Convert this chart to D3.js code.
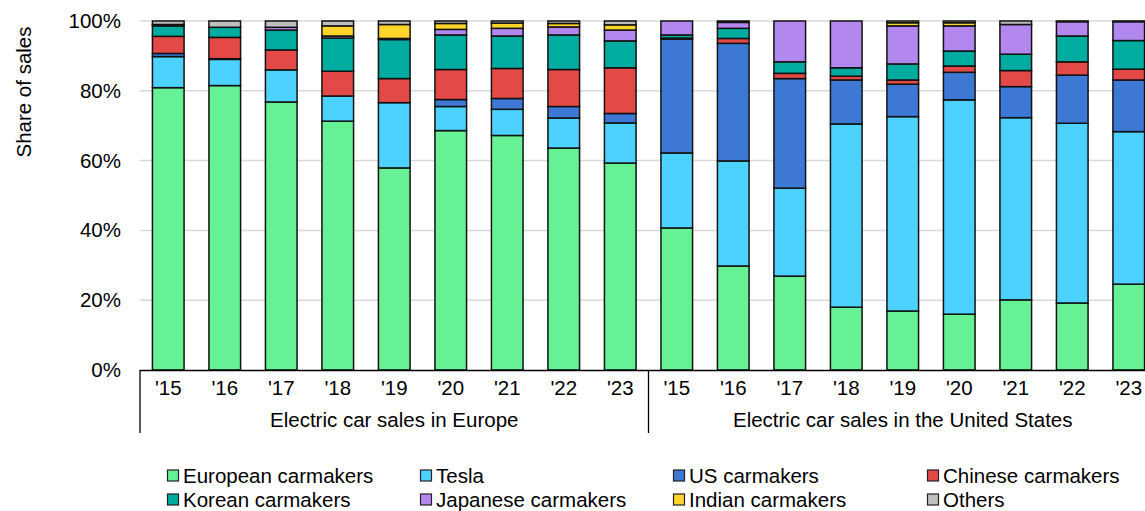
<!DOCTYPE html>
<html><head><meta charset="utf-8">
<script src="https://cdn.jsdelivr.net/npm/d3@7"></script>
<style>html,body{margin:0;padding:0;background:#fff;overflow:hidden}</style>
</head><body><svg id="c" width="1145" height="511"></svg>
<script>
const years = ["'15","'16","'17","'18","'19","'20","'21","'22","'23"];
const groups = ["Electric car sales in Europe","Electric car sales in the United States"];
const seriesNames = ["European carmakers","Tesla","US carmakers","Chinese carmakers","Korean carmakers","Japanese carmakers","Indian carmakers","Others"];
const seriesColors = ["#66F294","#4DD2FF","#3C78D4","#E34A47","#00AB9F","#B388EE","#FFD52B","#BFBFBF"];
const yTicks = [0,20,40,60,80,100];
// Europe '15..'23 then US '15..'23
const european = [80.9,81.5,76.8,71.3,57.9,68.6,67.2,63.6,59.3, 40.7,29.8,26.9,18.0,16.9,16.0,20.1,19.2,24.6];
const tesla    = [ 8.9, 7.5, 9.2, 7.2,18.7, 6.9, 7.5, 8.6,11.5, 21.5,30.1,25.2,52.5,55.7,61.4,52.2,51.5,43.7];
const usMakers = [ 0.9, 0.2, 0.0, 0.0, 0.0, 2.0, 3.1, 3.3, 2.7, 32.6,33.7,31.4,12.6, 9.3, 7.9, 8.9,13.8,14.8];
const chinese  = [ 4.9, 6.1, 5.7, 7.1, 6.9, 8.6, 8.6,10.6,13.1,  0.3, 1.4, 1.5, 1.1, 1.2, 1.8, 4.6, 3.8, 3.1];
const korean   = [ 3.0, 2.9, 5.7, 9.5,11.2, 9.9, 9.3, 9.9, 7.7,  0.9, 2.9, 3.3, 2.4, 4.6, 4.3, 4.7, 7.4, 8.2];
const japanese = [ 0.4, 0.0, 0.8, 0.6, 0.3, 1.6, 2.2, 2.3, 3.1,  4.0, 1.7,11.7,13.4,10.9, 7.2, 8.5, 4.1, 5.4];
const indian   = [ 0.0, 0.0, 0.0, 2.9, 4.0, 1.7, 1.5, 1.0, 1.5,  0.0, 0.0, 0.0, 0.0, 0.9, 0.9, 0.0, 0.0, 0.0];
const others   = [ 1.0, 1.8, 1.8, 1.4, 1.0, 0.7, 0.6, 0.7, 1.1,  0.0, 0.4, 0.0, 0.0, 0.5, 0.5, 1.0, 0.2, 0.2];

const seriesVals = [european,tesla,usMakers,chinese,korean,japanese,indian,others];
const keys = seriesNames;
const rows = [];
groups.forEach((g,gi)=>years.forEach((y,yi)=>{
  const i = gi*years.length+yi;
  const r = {id: gi+"-"+y, year:y, group:g};
  keys.forEach((k,ki)=>r[k]=seriesVals[ki][i]);
  rows.push(r);
}));

const svg = d3.select("#c");
const font = "'Liberation Sans', Arial, sans-serif";
const fs = 20.5;
const x0 = 140, step = 56.5;
const x = d3.scaleBand().domain(rows.map(r=>r.id)).range([x0, x0+step*rows.length]).paddingInner(0.44).paddingOuter(0.22);
const y = d3.scaleLinear().domain([0,100]).range([370,21]);
const color = d3.scaleOrdinal().domain(keys).range(seriesColors);

// gridlines
svg.append("g").selectAll("line").data(yTicks.filter(t=>t>0)).join("line")
  .attr("x1",x0).attr("x2",1145).attr("y1",d=>y(d)).attr("y2",d=>y(d))
  .attr("stroke","#d9d9d9").attr("stroke-width",1.5);

// y axis labels
const yAxis = d3.axisLeft(y).tickValues(yTicks).tickFormat(d=>d+"%").tickSize(0).tickPadding(19);
const ga = svg.append("g").attr("transform",`translate(${x0},0)`).call(yAxis);
ga.select(".domain").remove();
ga.selectAll("text").attr("font-family",font).attr("font-size",fs).attr("fill","#000");

svg.append("text").attr("transform","translate(31,92) rotate(-90)").attr("text-anchor","middle")
  .attr("font-family",font).attr("font-size",fs).text("Share of sales");

// stacked bars
const stacked = d3.stack().keys(keys)(rows);
svg.append("g").selectAll("g").data(stacked).join("g").attr("fill",d=>color(d.key))
  .selectAll("rect").data(d=>d.filter(p=>p[1]-p[0]>0)).join("rect")
  .attr("x",d=>x(d.data.id)).attr("width",x.bandwidth())
  .attr("y",d=>y(d[1])).attr("height",d=>y(d[0])-y(d[1]))
  .attr("stroke","#111").attr("stroke-width",1.5);

// x axis baseline
svg.append("line").attr("x1",x0).attr("x2",1145).attr("y1",370.5).attr("y2",370.5).attr("stroke","#000").attr("stroke-width",1.3);
// group separators
[0,1,2].forEach(i=>{
  const xx = x0 + i*step*years.length;
  svg.append("line").attr("x1",xx).attr("x2",xx).attr("y1",370).attr("y2",433).attr("stroke","#000").attr("stroke-width",1.3);
});
// tick labels
const xAxis = d3.axisBottom(x).tickFormat(id=>id.split("-")[1]).tickSize(0).tickPadding(10);
const gx = svg.append("g").attr("transform","translate(0,370)").call(xAxis);
gx.select(".domain").remove();
gx.selectAll("text").attr("font-family",font).attr("font-size",fs).attr("fill","#000").attr("dy","0.71em");
// group labels
groups.forEach((g,gi)=>{
  const cx = x0 + step*years.length*(gi+0.5);
  svg.append("text").attr("x",cx).attr("y",427).attr("text-anchor","middle")
    .attr("font-family",font).attr("font-size",fs).text(g);
});

// legend
const legX = [167,420,673,927];
const leg = svg.append("g").selectAll("g").data(keys).join("g")
  .attr("transform",(d,i)=>`translate(${legX[i%4]},${i<4?475.5:499.5})`);
leg.append("rect").attr("x",0.5).attr("y",-5.5).attr("width",11).attr("height",11)
  .attr("fill",d=>color(d)).attr("stroke","#222").attr("stroke-width",1.2);
leg.append("text").attr("x",16).attr("y",0).attr("dy","0.35em")
  .attr("font-family",font).attr("font-size",fs).text(d=>d);
</script></body></html>
